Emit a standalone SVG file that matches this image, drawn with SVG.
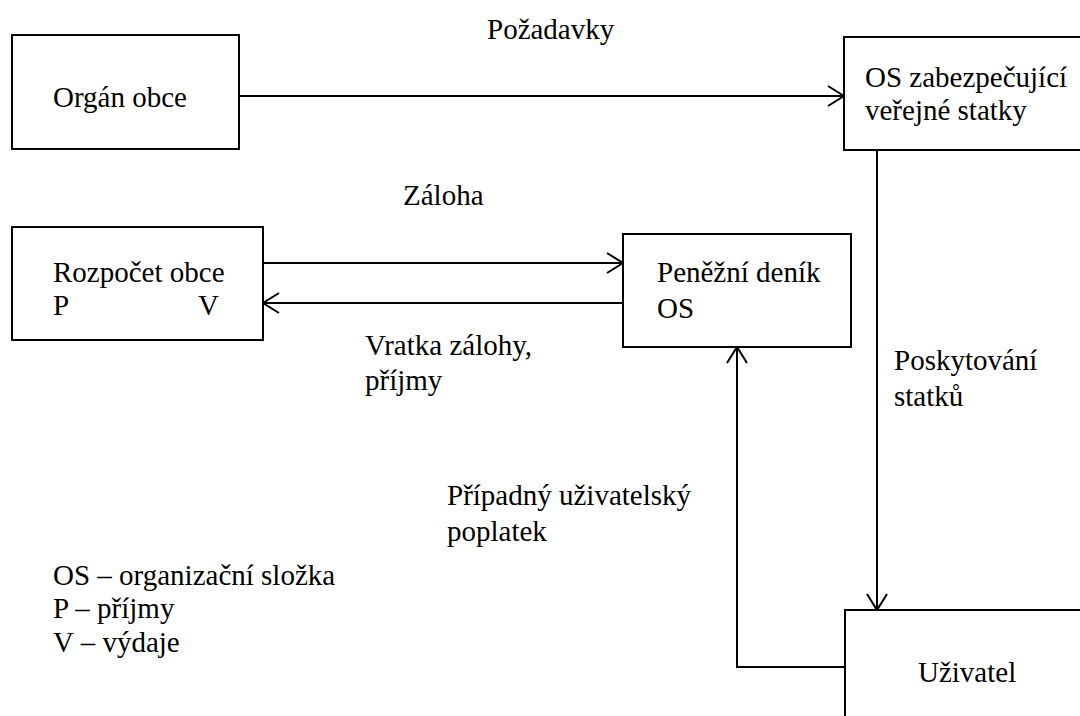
<svg xmlns="http://www.w3.org/2000/svg" width="1080" height="716" viewBox="0 0 1080 716">
<style>
  .box { fill: #ffffff; stroke: #000000; stroke-width: 2; }
  .t { font-family: 'Liberation Serif', Tinos, 'Times New Roman', Times, 'DejaVu Serif', serif; font-size: 29px; fill: #000000; }
  .ln { fill: none; stroke: #000000; stroke-width: 2; }
</style>
<defs>
  <marker id="arr" markerUnits="userSpaceOnUse" markerWidth="22" markerHeight="26" refX="19" refY="13" orient="auto">
    <path d="M3,3 L19,13 L3,23" fill="none" stroke="#000000" stroke-width="2"/>
  </marker>
</defs>
<rect width="1080" height="716" fill="#ffffff"/>

<g id="connectors">
  <line class="ln" x1="239" y1="96" x2="844" y2="96" marker-end="url(#arr)"/>
  <line class="ln" x1="263" y1="263" x2="623" y2="263" marker-end="url(#arr)"/>
  <line class="ln" x1="623" y1="303" x2="263" y2="303" marker-end="url(#arr)"/>
  <line class="ln" x1="877" y1="150" x2="877" y2="610" marker-end="url(#arr)"/>
  <polyline class="ln" points="845,667 737,667 737,347" marker-end="url(#arr)"/>
</g>

<g id="node-organ-obce">
  <rect class="box" x="12" y="35" width="227" height="114"/>
  <text class="t" x="53" y="107" font-family="Liberation Serif, serif">Orgán obce</text>
</g>

<g id="node-os-zabezpecujici">
  <rect class="box" x="844" y="37" width="260" height="113"/>
  <text class="t" x="865" y="87">OS zabezpečující</text>
  <text class="t" x="865" y="120">veřejné statky</text>
</g>

<g id="node-rozpocet-obce">
  <rect class="box" x="12" y="227" width="251" height="113"/>
  <text class="t" x="53" y="282">Rozpočet obce</text>
  <text class="t" x="53" y="315">P</text>
  <text class="t" x="198" y="315">V</text>
</g>

<g id="node-penezni-denik">
  <rect class="box" x="623" y="234" width="228" height="113"/>
  <text class="t" x="657" y="282">Peněžní deník</text>
  <text class="t" x="657" y="318">OS</text>
</g>

<g id="node-uzivatel">
  <rect class="box" x="845" y="610" width="260" height="130"/>
  <text class="t" x="918" y="682">Uživatel</text>
</g>

<g id="labels">
  <text class="t" x="487" y="39">Požadavky</text>
  <text class="t" x="403" y="205">Záloha</text>
  <text class="t" x="365" y="355">Vratka zálohy,</text>
  <text class="t" x="365" y="390">příjmy</text>
  <text class="t" x="894" y="370">Poskytování</text>
  <text class="t" x="894" y="406">statků</text>
  <text class="t" x="447" y="505">Případný uživatelský</text>
  <text class="t" x="447" y="541">poplatek</text>
</g>

<g id="legend">
  <text class="t" x="53" y="585">OS – organizační složka</text>
  <text class="t" x="53" y="618">P – příjmy</text>
  <text class="t" x="53" y="652">V – výdaje</text>
</g>
</svg>
